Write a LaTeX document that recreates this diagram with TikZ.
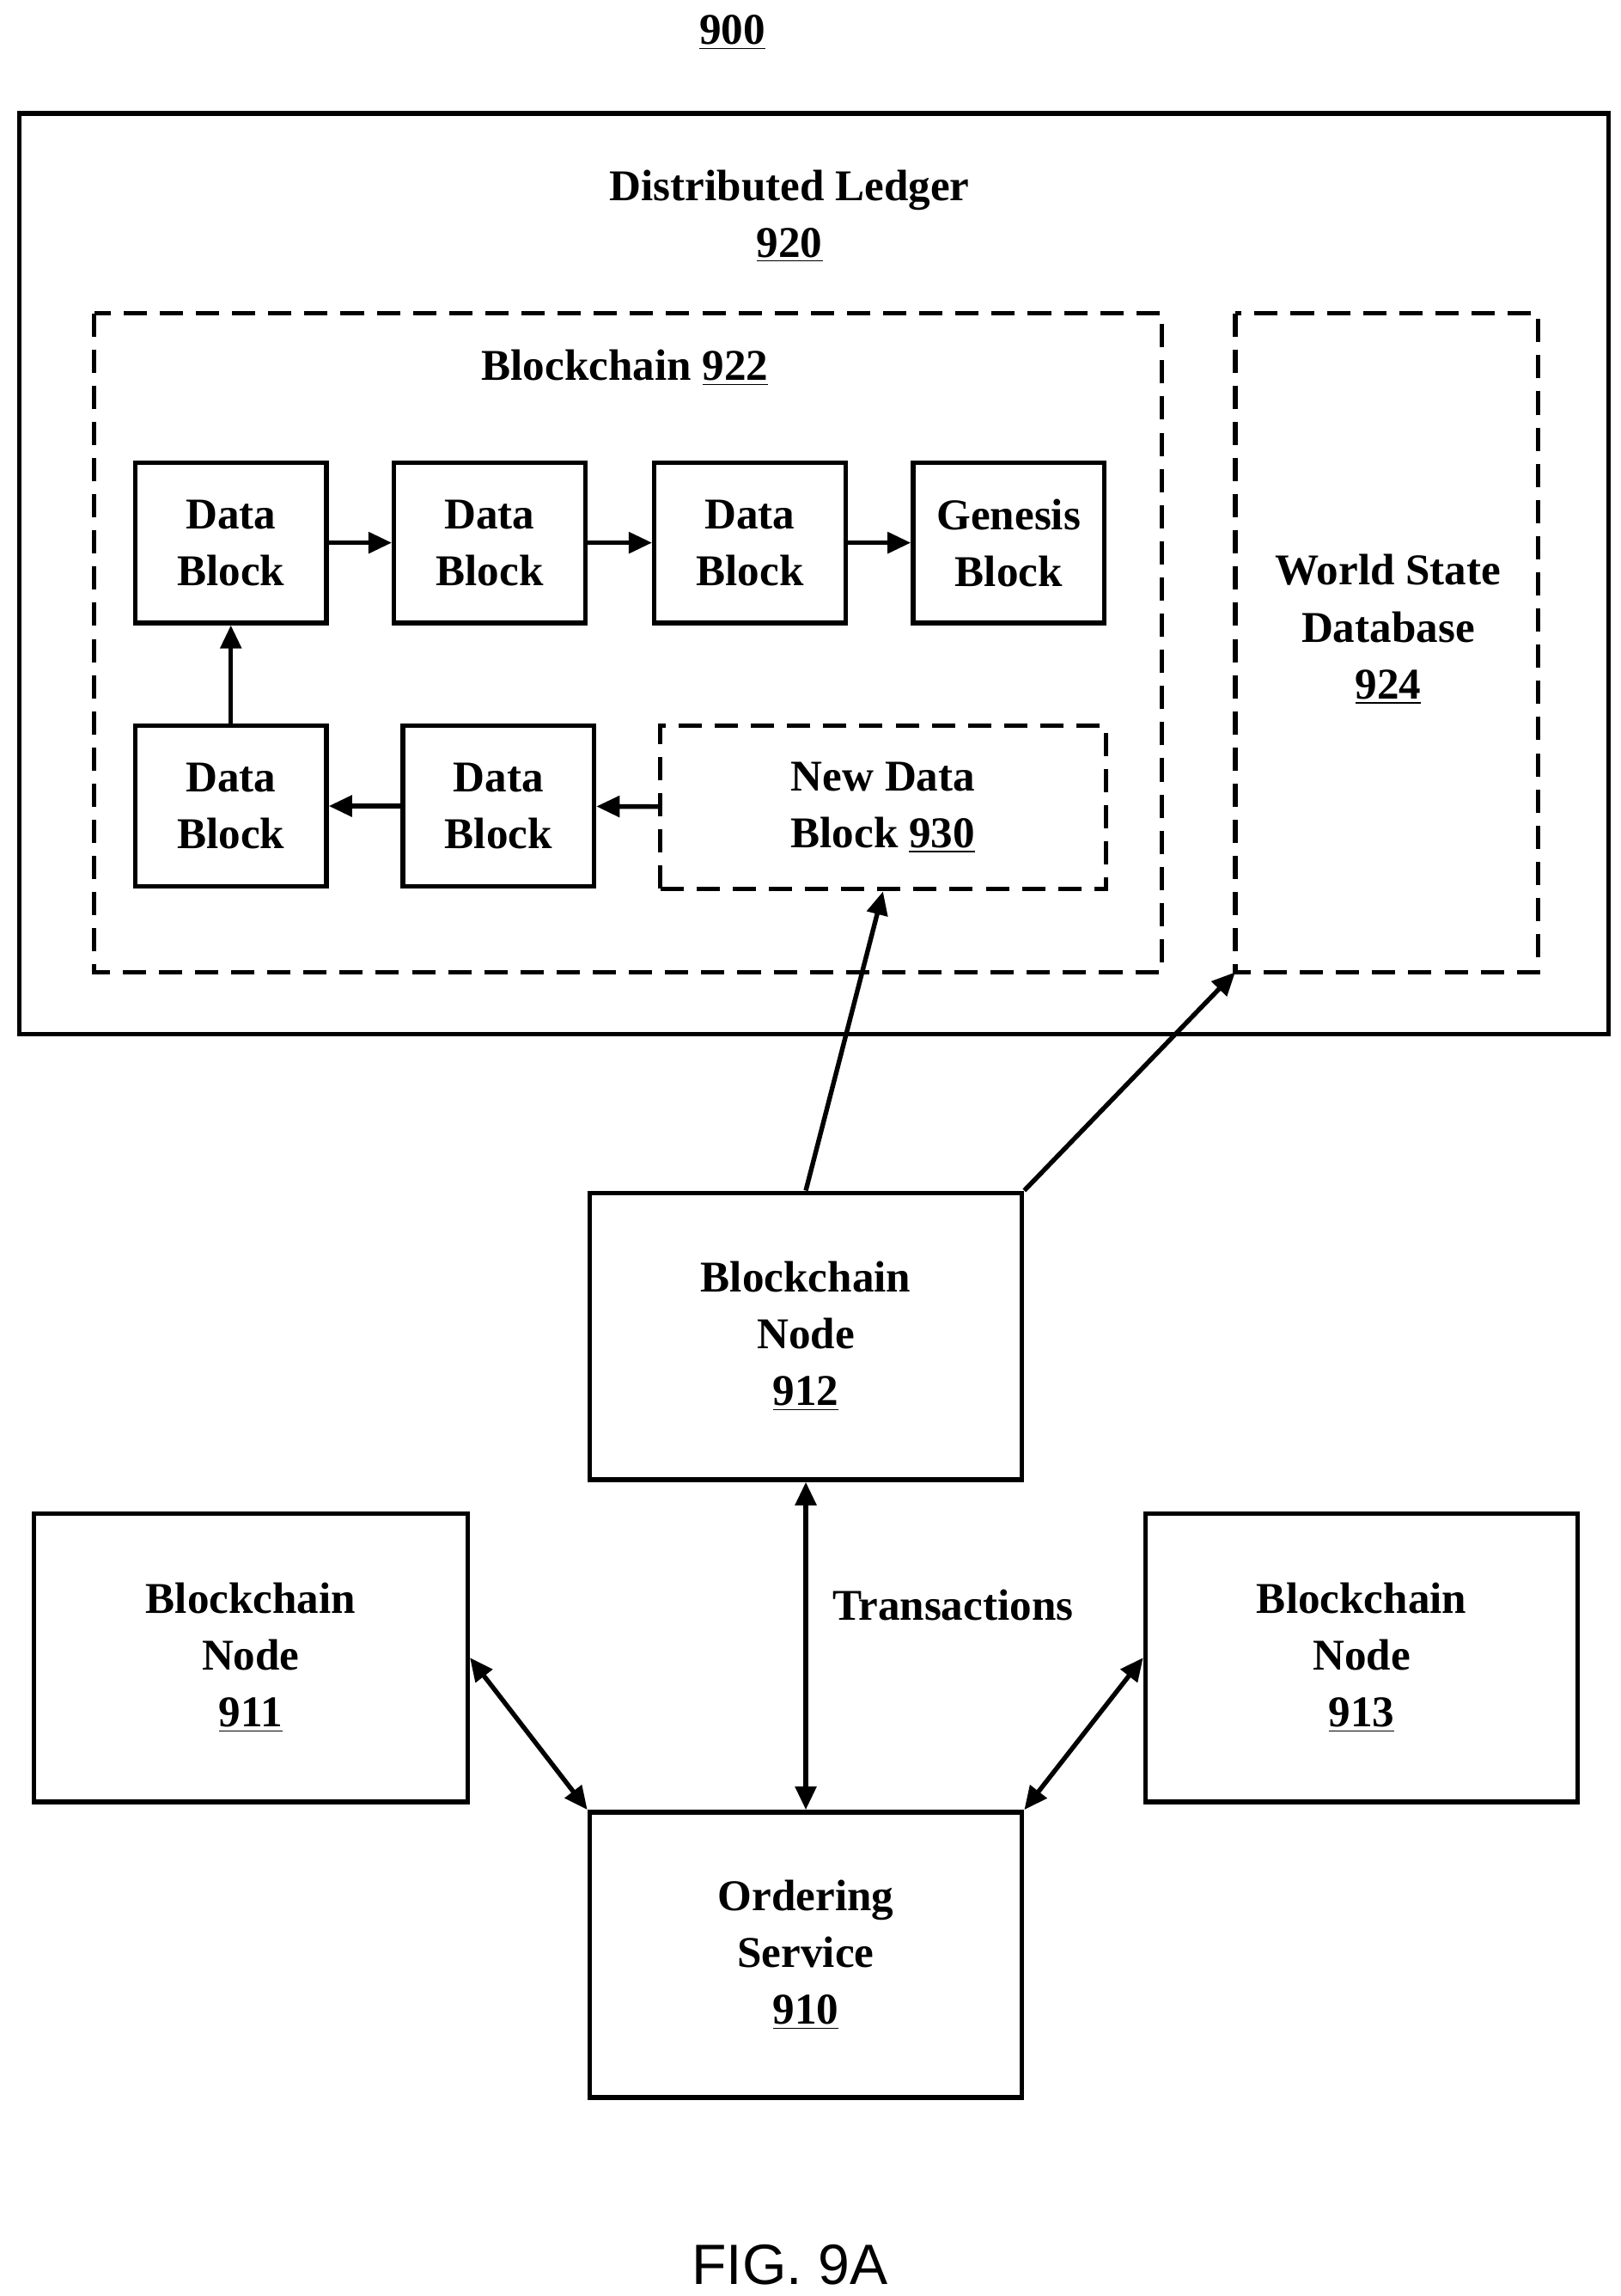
\documentclass[tikz,border=0pt]{standalone}
\usepackage{fontspec}
\setmainfont{Liberation Serif}
\newfontfamily\figfont{Liberation Sans}
\usetikzlibrary{arrows.meta}
\begin{document}
\begin{tikzpicture}[x=0.02cm,y=-0.02cm,
  box/.style={draw,line width=1.8pt},
  dbox/.style={draw,line width=1.8pt,dash pattern=on 9pt off 5pt},
  txt/.style={font=\fontsize{17}{22}\selectfont\bfseries,align=center},
  arr/.style={line width=1.8pt,-{Triangle[length=9pt,width=8pt]}},
  darr/.style={line width=1.8pt,{Triangle[length=9pt,width=8pt]}-{Triangle[length=9pt,width=8pt]}}]
\useasboundingbox (0,0) rectangle (1102,1561);
\node[txt] (t900) at (498,22) {\underline{900}};
\draw[box] (13,77) rectangle (1094,703);
\node[txt] (dl) at (537,147) {Distributed Ledger\\\underline{920}};
\draw[dbox] (64,213) rectangle (790,661);
\node[txt] (bcl) at (425,250) {Blockchain \underline{922}};
\draw[dbox] (840,213) coordinate (wsc) rectangle (1046,661);
\coordinate (wsbl) at (840,661);
\node[txt] (ws) at (944,428) {World State\\Database\\\underline{924}};
\foreach \n/\x/\y/\t in {a/157/369/Data\\Block, b/333/369/Data\\Block, c/510/369/Data\\Block, g/686/369/Genesis\\Block, d/157/548/Data\\Block, e/339/548/Data\\Block}
  \node[box,txt,minimum width=130*0.02cm,minimum height=109*0.02cm,inner sep=0pt] (\n) at (\x,\y) {\t};
\node[dbox,txt,minimum width=303*0.02cm,minimum height=111*0.02cm,inner sep=0pt] (nb) at (600.5,549) {New Data\\Block \underline{930}};
\draw[arr] (a) -- (b); \draw[arr] (b) -- (c); \draw[arr] (c) -- (g);
\draw[arr] (nb) -- (e); \draw[arr] (e) -- (d); \draw[arr] (d) -- (a);
\node[box,txt,minimum width=294*0.02cm,minimum height=195*0.02cm,inner sep=0pt] (n912) at (548,908.5) {Blockchain\\Node\\\underline{912}};
\node[box,txt,minimum width=295*0.02cm,minimum height=196*0.02cm,inner sep=0pt] (n911) at (170.5,1127) {Blockchain\\Node\\\underline{911}};
\node[box,txt,minimum width=294*0.02cm,minimum height=196*0.02cm,inner sep=0pt] (n913) at (926,1127) {Blockchain\\Node\\\underline{913}};
\node[box,txt,minimum width=294*0.02cm,minimum height=194*0.02cm,inner sep=0pt] (n910) at (548,1329) {Ordering\\Service\\\underline{910}};
\draw[arr] (n912.north) -- (nb.south);
\draw[arr] (n912.north east) -- (wsbl);
\draw[darr] (n912.south) -- (n910.north);
\node[txt] (tr) at (648,1091) {Transactions};
\draw[darr] (n911.east) -- (n910.north west);
\draw[darr] (n913.west) -- (n910.north east);
\node[font=\figfont\fontsize{22}{26}\selectfont] (fig) at (537,1540) {FIG. 9A};
\end{tikzpicture}
\end{document}
